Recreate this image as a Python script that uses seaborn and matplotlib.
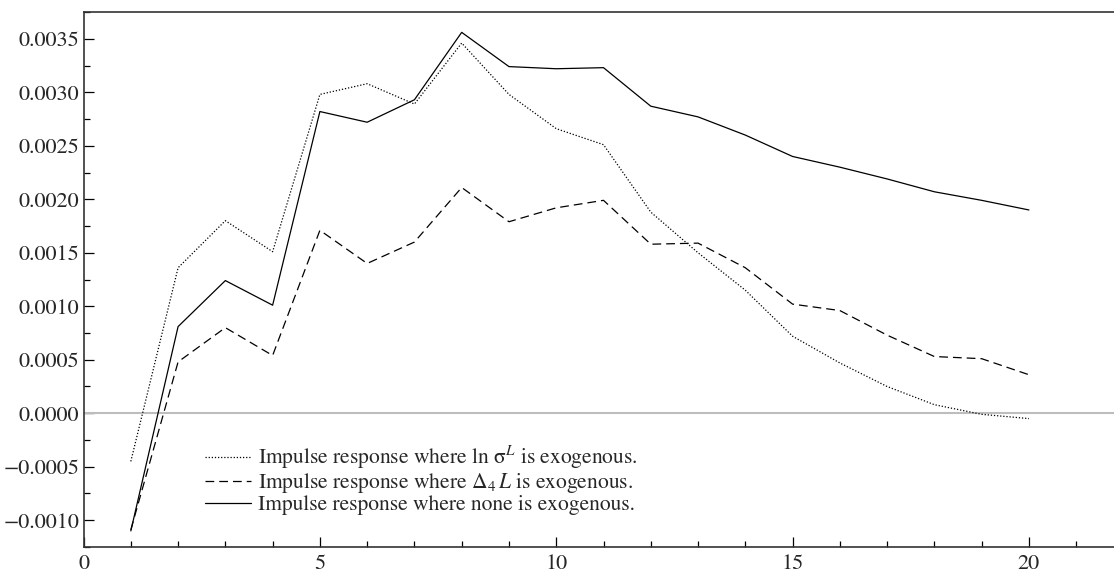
import numpy as np
import pandas as pd
import matplotlib
matplotlib.use("Agg")
import matplotlib.pyplot as plt
import seaborn as sns
from matplotlib.ticker import MultipleLocator, FuncFormatter

horizon = list(range(1, 21))
resp_ln_sigma = [-0.00045, 0.00136, 0.00180, 0.00151, 0.00298, 0.00308, 0.00289, 0.00346,
                 0.00298, 0.00266, 0.00251, 0.00188, 0.00150, 0.00115, 0.00072, 0.00047,
                 0.00025, 0.00008, -0.00001, -0.00005]
resp_delta4 = [-0.00109, 0.00048, 0.00080, 0.00054, 0.00171, 0.00140, 0.00160, 0.00211,
               0.00179, 0.00192, 0.00199, 0.00158, 0.00159, 0.00136, 0.00102, 0.00096,
               0.00073, 0.00053, 0.00051, 0.00036]
resp_none = [-0.00110, 0.00081, 0.00124, 0.00101, 0.00282, 0.00272, 0.00293, 0.00356,
             0.00324, 0.00322, 0.00323, 0.00287, 0.00277, 0.00260, 0.00240, 0.00230,
             0.00219, 0.00207, 0.00199, 0.00190]

labels = [r"Impulse response where ln $\mathrm{\sigma}^{L}$ is exogenous.",
          r"Impulse response where $\Delta_4\,L$ is exogenous.",
          r"Impulse response where none is exogenous."]

df = pd.DataFrame({
    "h": horizon * 3,
    "v": resp_ln_sigma + resp_delta4 + resp_none,
    "s": [labels[0]] * 20 + [labels[1]] * 20 + [labels[2]] * 20,
})

sns.set_theme(style="ticks")
plt.rcParams["font.family"] = ["STIXGeneral", "Liberation Serif", "DejaVu Serif"]
plt.rcParams["mathtext.fontset"] = "stix"
plt.rcParams["axes.unicode_minus"] = True

fig = plt.figure(figsize=(11.14, 5.73), dpi=100)
ax = fig.add_axes([0.075, 0.0454, 0.925, 0.9336])

ax.axhline(0, color="#bdbdbd", lw=1.5, zorder=1)

sns.lineplot(data=df, x="h", y="v", style="s", style_order=labels,
             dashes={labels[0]: (1, 1.5), labels[1]: (7, 4), labels[2]: ""},
             color="black", lw=0.9, ax=ax, legend=True, zorder=3)

ax.set_xlim(0, 21.8)
ax.set_ylim(-0.00125, 0.00375)
ax.xaxis.set_major_locator(MultipleLocator(5))
ax.xaxis.set_minor_locator(MultipleLocator(1))
ax.yaxis.set_major_locator(MultipleLocator(0.0005))
ax.yaxis.set_minor_locator(MultipleLocator(0.00025))
ax.yaxis.set_major_formatter(FuncFormatter(
    lambda v, p: ("%.4f" % (0.0 if abs(v) < 1e-12 else v)).replace("-", "\u2212")))
ax.tick_params(axis="both", which="major", direction="in", length=7, width=0.9,
               labelsize=16, color="black")
ax.tick_params(axis="both", which="minor", direction="in", length=4, width=0.9, color="black")
ax.tick_params(axis="y", pad=3)
ax.tick_params(axis="x", pad=5)
ax.set_xlabel("")
ax.set_ylabel("")
for side in ["left", "top", "bottom"]:
    ax.spines[side].set_color("#333333")
    ax.spines[side].set_linewidth(1.2)
ax.spines["right"].set_visible(False)

ax.legend(loc="upper left", bbox_to_anchor=(0.118, 0.193), frameon=False, fontsize=15.5,
          handlelength=2.15, handletextpad=0.3, labelspacing=0.0, borderpad=0, borderaxespad=0)

fig.savefig("out.png", dpi=100)
